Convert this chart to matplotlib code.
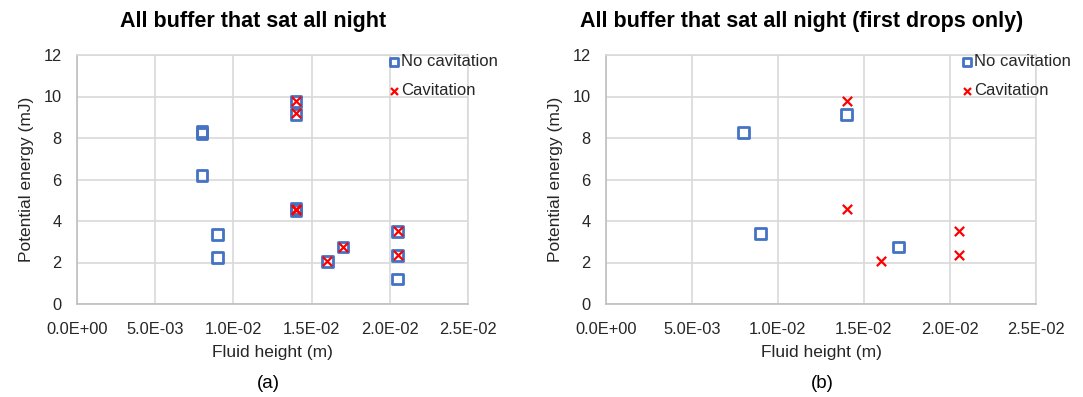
import numpy as np
import matplotlib.pyplot as plt
from matplotlib.ticker import FormatStrFormatter

plt.rcParams['font.family'] = ['Liberation Sans', 'DejaVu Sans']

# ========================================
# data
# ========================================
# (a) all drops
a_nocav_x = [0.008, 0.008, 0.008, 0.009, 0.009, 0.014, 0.014, 0.014, 0.014,
             0.016, 0.017, 0.0205, 0.0205, 0.0205]
a_nocav_y = [8.2, 8.3, 6.2, 3.35, 2.25, 9.75, 9.15, 4.5, 4.6,
             2.05, 2.75, 3.5, 2.35, 1.2]
a_cav_x = [0.014, 0.014, 0.014, 0.014, 0.016, 0.017, 0.0205, 0.0205]
a_cav_y = [9.8, 9.2, 4.55, 4.6, 2.05, 2.75, 3.5, 2.35]

# (b) first drops only
b_nocav_x = [0.008, 0.009, 0.014, 0.017]
b_nocav_y = [8.25, 3.4, 9.15, 2.75]
b_cav_x = [0.014, 0.014, 0.016, 0.0205, 0.0205]
b_cav_y = [9.8, 4.6, 2.05, 3.5, 2.35]

xticks = np.arange(0, 0.0251, 0.005)
yticks = np.arange(0, 13, 2)

BLUE = "#4472C4"
RED = "#FF0000"
GRID = "#D9D9D9"
TXT = "#262626"

fig = plt.figure(figsize=(10.83, 3.97), dpi=100)
ax1 = fig.add_axes([77 / 1083, 93 / 397, 391 / 1083, 249 / 397])
ax2 = fig.add_axes([606 / 1083, 93 / 397, 430 / 1083, 249 / 397])


def draw(ax, nx, ny, cx, cy, title, tx, tag, tagx, legx):
    ax.scatter(nx, ny, marker="s", s=60, facecolors="none", edgecolors=BLUE,
               linewidths=2, label="No cavitation", zorder=3)
    ax.scatter(cx, cy, marker="x", s=45, color=RED, linewidths=1.6,
               label="Cavitation", zorder=4)
    ax.set_xlim(0, 0.025)
    ax.set_ylim(0, 12)
    ax.set_xticks(xticks)
    ax.set_yticks(yticks)
    ax.xaxis.set_major_formatter(FormatStrFormatter("%.1E"))
    ax.tick_params(length=0, labelsize=11.8, colors=TXT)
    ax.tick_params(axis="x", pad=13)
    ax.tick_params(axis="y", pad=11)
    ax.grid(True, color=GRID, lw=1.2)
    ax.set_axisbelow(True)
    for s in ax.spines.values():
        s.set_color(GRID)
        s.set_linewidth(1.2)
    ax.spines["left"].set_color("#BFBFBF")
    ax.spines["bottom"].set_color("#BFBFBF")
    ax.set_xlabel("Fluid height (m)", fontsize=12.5, color=TXT, labelpad=6)
    ax.set_ylabel("Potential energy (mJ)", fontsize=12.5, color=TXT, labelpad=7)
    leg = ax.legend(loc="upper left", bbox_to_anchor=(legx, 1.03), frameon=False,
                    fontsize=12, handletextpad=-0.1, labelspacing=0.85,
                    borderaxespad=0, handlelength=1.1, markerscale=0.75)
    for t in leg.get_texts():
        t.set_color(TXT)
    fig.text(tx, 1 - 21 / 397, title, ha="center", va="center",
             fontsize=15.5, fontweight="bold")
    fig.text(tagx, 1 - 384 / 397, tag, ha="center", va="center", fontsize=13.5)


draw(ax1, a_nocav_x, a_nocav_y, a_cav_x, a_cav_y,
     "All buffer that sat all night", 253 / 1083, "(a)", 268 / 1083, 0.77)
draw(ax2, b_nocav_x, b_nocav_y, b_cav_x, b_cav_y,
     "All buffer that sat all night (first drops only)", 802 / 1083, "(b)",
     822 / 1083, 0.802)

plt.savefig("out.png", dpi=100)
